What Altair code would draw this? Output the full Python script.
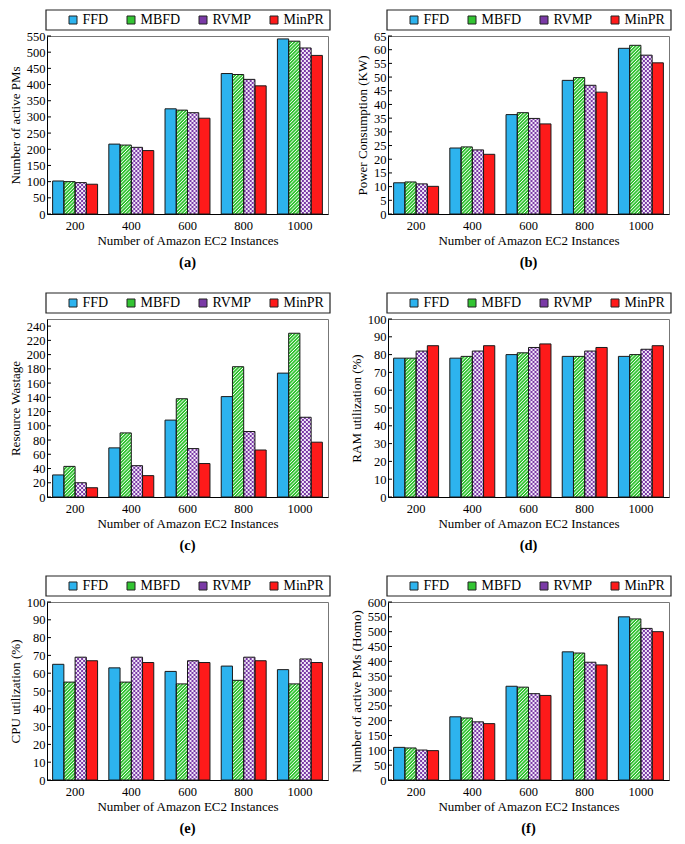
import math
import altair as alt
import pandas as pd

# ---------------- data ----------------
instances = ["200", "400", "600", "800", "1000"]
series = ["FFD", "MBFD", "RVMP", "MinPR"]

pms_ffd = [102, 216, 325, 434, 541]
pms_mbfd = [100, 213, 321, 431, 534]
pms_rvmp = [97, 206, 313, 416, 513]
pms_minpr = [92, 196, 296, 396, 490]

power_ffd = [11.4, 24.1, 36.3, 48.8, 60.5]
power_mbfd = [11.7, 24.5, 37.0, 49.8, 61.6]
power_rvmp = [11.0, 23.4, 34.9, 47.0, 58.0]
power_minpr = [10.1, 21.8, 32.9, 44.5, 55.2]

waste_ffd = [31, 69, 108, 141, 174]
waste_mbfd = [43, 90, 138, 183, 230]
waste_rvmp = [20, 44, 68, 92, 112]
waste_minpr = [13, 30, 47, 66, 77]

ram_ffd = [78, 78, 80, 79, 79]
ram_mbfd = [78, 79, 81, 79, 80]
ram_rvmp = [82, 82, 84, 82, 83]
ram_minpr = [85, 85, 86, 84, 85]

cpu_ffd = [65, 63, 61, 64, 62]
cpu_mbfd = [55, 55, 54, 56, 54]
cpu_rvmp = [69, 69, 67, 69, 68]
cpu_minpr = [67, 66, 66, 67, 66]

homo_ffd = [110, 213, 316, 432, 550]
homo_mbfd = [108, 209, 313, 428, 543]
homo_rvmp = [101, 196, 291, 397, 511]
homo_minpr = [99, 190, 285, 388, 500]

panel_labels = ["(a)", "(b)", "(c)", "(d)", "(e)", "(f)"]
y_titles = ["Number of active PMs", "Power Consumption (KW)", "Resource Wastage",
            "RAM utilization (%)", "CPU utilization (%)", "Number of active PMs (Homo)"]
y_max = [550, 65, 250, 100, 100, 600]
y_tick_top = [550, 65, 240, 100, 100, 600]
y_step = [50, 5, 20, 10, 10, 50]
panel_values = [
    [pms_ffd, pms_mbfd, pms_rvmp, pms_minpr],
    [power_ffd, power_mbfd, power_rvmp, power_minpr],
    [waste_ffd, waste_mbfd, waste_rvmp, waste_minpr],
    [ram_ffd, ram_mbfd, ram_rvmp, ram_minpr],
    [cpu_ffd, cpu_mbfd, cpu_rvmp, cpu_minpr],
    [homo_ffd, homo_mbfd, homo_rvmp, homo_minpr],
]

# ---------------- style ----------------
W, H = 281, 178
PI, PO = 0.2, 0.1
FONT = "Liberation Serif"
colors = ["#2db3ee", "#33c433", "#7a3aa6", "#fe1a1a"]
CHECK_LIGHT = "#f1e8f8"
STEP = W / (5 - PI + 2 * PO)
BAR_W = STEP * (1 - PI) / 4


def hatch_path(w, h, period):
    """Diagonal '/' hatch lines filling a w x h box centred on the origin."""
    parts = []
    c = period / 2
    while c < w + h:
        x1 = max(0.0, c - h)
        y1 = c - x1
        x2 = min(w, c)
        y2 = c - x2
        parts.append(f"M{x1 - w / 2:.2f},{y1 - h / 2:.2f}L{x2 - w / 2:.2f},{y2 - h / 2:.2f}")
        c += period
    return "".join(parts)


def checker_path(w, h, cell):
    parts = []
    nx = math.ceil(w / cell)
    ny = math.ceil(h / cell)
    for j in range(ny):
        for i in range(nx):
            if (i + j) % 2 == 0:
                x0, y0 = i * cell, h - (j + 1) * cell
                x1, y1 = min(w, x0 + cell), h - j * cell
                y0 = max(0.0, y0)
                a, b, c, d = x0 - w / 2, y0 - h / 2, x1 - w / 2, y1 - h / 2
                parts.append(f"M{a:.2f},{b:.2f}L{c:.2f},{b:.2f}L{c:.2f},{d:.2f}L{a:.2f},{d:.2f}Z")
    return "".join(parts)


def make_panel(i):
    vals = panel_values[i]
    rows = []
    for si, s in enumerate(series):
        for ii, inst in enumerate(instances):
            rows.append({"inst": inst, "series": s, "value": vals[si][ii]})
    df = pd.DataFrame(rows)
    ymax = y_max[i]
    tick_values = list(range(0, y_tick_top[i] + 1, y_step[i]))

    def yenc(field):
        return alt.Y(field, scale=alt.Scale(domain=[0, ymax], nice=False, zero=True),
                     axis=alt.Axis(title=y_titles[i], values=tick_values,
                                   ticks=False, labelPadding=2, titlePadding=4))

    base = alt.Chart(df).encode(
        x=alt.X("inst:N", sort=instances,
                scale=alt.Scale(domain=instances, paddingInner=PI, paddingOuter=PO),
                axis=alt.Axis(title="Number of Amazon EC2 Instances", labelAngle=0, ticks=False,
                              labelPadding=5, titlePadding=3)),
        xOffset=alt.XOffset("series:N", scale=alt.Scale(domain=series, paddingInner=0, paddingOuter=0)),
        y=yenc("value:Q"),
    )

    layers = [base.mark_bar(strokeWidth=0).encode(
        color=alt.Color("series:N", scale=alt.Scale(domain=series, range=colors),
                        legend=alt.Legend(orient="none", legendX=19, legendY=-23, direction="horizontal",
                                          columns=4, title=None, symbolType="square", symbolSize=64,
                                          symbolStrokeColor="#222", symbolStrokeWidth=1,
                                          labelFont=FONT, labelFontSize=14, labelColor="#000",
                                          columnPadding=15, labelOffset=2.5, padding=0))
    )]

    # MBFD: white diagonal hatch over green
    for ii, inst in enumerate(instances):
        h = vals[1][ii] / ymax * H
        path = hatch_path(BAR_W, h, 3.4)
        layers.append(
            base.transform_filter(f"datum.inst == '{inst}' && datum.series == 'MBFD'")
            .transform_calculate(mid="datum.value / 2")
            .mark_point(shape=path, size=4, filled=False, color="#ffffff", strokeWidth=1.0, opacity=1)
            .encode(y=yenc("mid:Q"))
        )

    # RVMP: light checker over purple
    for ii, inst in enumerate(instances):
        h = vals[2][ii] / ymax * H
        path = checker_path(BAR_W, h, 2.0)
        layers.append(
            base.transform_filter(f"datum.inst == '{inst}' && datum.series == 'RVMP'")
            .transform_calculate(mid="datum.value / 2")
            .mark_point(shape=path, size=4, filled=True, color=CHECK_LIGHT, strokeWidth=0, opacity=1)
            .encode(y=yenc("mid:Q"))
        )

    # outlines
    layers.append(base.mark_bar(fillOpacity=0, stroke="#1a1a1a", strokeWidth=1))

    # inward y ticks
    ticks = alt.Chart(pd.DataFrame({"t": tick_values})).mark_rule(color="#000", strokeWidth=1).encode(
        y=yenc("t:Q"), x=alt.value(0), x2=alt.value(4)
    )
    layers.append(ticks)

    # legend frame
    frame = alt.Chart(pd.DataFrame({"k": [0]})).mark_rect(
        fillOpacity=0, stroke="#222", strokeWidth=1.2
    ).encode(x=alt.value(-1), x2=alt.value(W + 2), y=alt.value(-26), y2=alt.value(-6))
    layers.append(frame)

    return alt.layer(*layers).properties(
        width=W, height=H,
        title=alt.TitleParams(text=panel_labels[i], orient="bottom", anchor="middle",
                              font=FONT, fontSize=14.5, fontWeight="bold", color="#000", offset=8),
    )


panels = [make_panel(i) for i in range(6)]

chart = alt.concat(*panels, columns=2, spacing={"row": 105, "column": 60}, bounds="flush").resolve_scale(
    color="independent"
).properties(padding={"left": 0, "top": 0, "right": 0, "bottom": 0}).configure(font=FONT).configure_view(
    stroke="#777", strokeWidth=1
).configure_axis(
    labelFont=FONT, titleFont=FONT, labelFontSize=12.5, titleFontSize=13, titleFontWeight="normal",
    labelColor="#000", titleColor="#000", grid=False, domainColor="#000", domainWidth=1
).configure_legend(labelFont=FONT, labelFontSize=14)

chart.save("out.html", embed_options={"renderer": "svg", "actions": False})
